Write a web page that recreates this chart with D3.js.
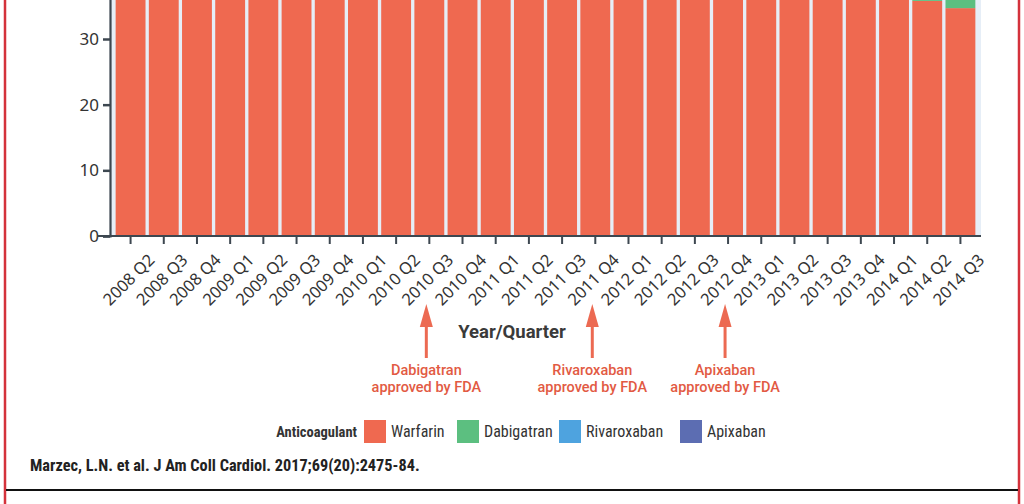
<!DOCTYPE html>
<html><head><meta charset="utf-8">
<script src="https://cdn.jsdelivr.net/npm/d3@7"></script>
<style>
html,body{margin:0;padding:0;background:#fff;}
svg{display:block;}
</style></head>
<body>
<svg id="chart" width="1024" height="504"></svg>
<script>
// ---- data ----
const quarters = ["2008 Q2","2008 Q3","2008 Q4","2009 Q1","2009 Q2","2009 Q3","2009 Q4",
  "2010 Q1","2010 Q2","2010 Q3","2010 Q4","2011 Q1","2011 Q2","2011 Q3","2011 Q4",
  "2012 Q1","2012 Q2","2012 Q3","2012 Q4","2013 Q1","2013 Q2","2013 Q3","2013 Q4",
  "2014 Q1","2014 Q2","2014 Q3"];
const drugs = ["Warfarin","Dabigatran","Rivaroxaban","Apixaban"];
const warfarin    = [50,51,52,52,52,51,51,50,50,49,48,47,46,45,44,43,42,41,40,39.5,39,38.5,38,37,35.8,34.7];
const dabigatran  = [0,0,0,0,0,0,0,0,0,0,1,2,3,3.5,4,4,3.8,3.5,3.2,3,2.8,2.6,2.4,2.2,2,1.9];
const rivaroxaban = [0,0,0,0,0,0,0,0,0,0,0,0,0,0,0.3,1,1.8,2.5,3.2,3.8,4.3,4.8,5.2,5.6,6,6.3];
const apixaban    = [0,0,0,0,0,0,0,0,0,0,0,0,0,0,0,0,0,0,0,0.2,0.5,0.9,1.3,1.7,2.1,2.5];
const yTicks = [0,10,20,30];
const approvals = [
  {quarter:"2010 Q3", lines:["Dabigatran","approved by FDA"]},
  {quarter:"2011 Q4", lines:["Rivaroxaban","approved by FDA"]},
  {quarter:"2012 Q4", lines:["Apixaban","approved by FDA"]}
];
const colors = ["#ef6950","#5cbf80","#4ea3df","#5c6db2"];
const citation = "Marzec, L.N. et al. J Am Coll Cardiol. 2017;69(20):2475-84.";

// ---- chart ----
const svg = d3.select("#chart");
const font = "'Noto Sans', 'Open Sans', sans-serif";
const narrow = "'Liberation Sans Narrow', 'Roboto Condensed', sans-serif";
const left = 110, right = 981, bottom = 236;
const pxPerUnit = 6.567;

const x = d3.scaleBand().domain(quarters).range([left, right]).paddingInner(0.1).paddingOuter(0.17);
const y = d3.scaleLinear().domain([0, 40]).range([bottom, bottom - 40 * pxPerUnit]);

// plot background
svg.append("rect").attr("x", left).attr("y", 0).attr("width", right - left).attr("height", bottom)
  .attr("fill", "#e6eef7");

const rows = quarters.map((q, i) => ({quarter: q, Warfarin: warfarin[i], Dabigatran: dabigatran[i],
  Rivaroxaban: rivaroxaban[i], Apixaban: apixaban[i]}));
const stack = d3.stack().keys(drugs)(rows);

svg.append("g").selectAll("g").data(stack).join("g")
  .attr("fill", (d, i) => colors[i])
  .selectAll("rect").data(d => d).join("rect")
  .attr("x", d => x(d.data.quarter))
  .attr("width", x.bandwidth())
  .attr("y", d => y(d[1]))
  .attr("height", d => y(d[0]) - y(d[1]));

// y axis
const yAxis = svg.append("g").attr("transform", `translate(${left},0)`)
  .call(d3.axisLeft(y).tickValues(yTicks).tickSize(7).tickPadding(4));
yAxis.select(".domain").attr("stroke", "#3d4750").attr("stroke-width", 2.2);
yAxis.selectAll(".tick line").attr("stroke", "#3d4750").attr("stroke-width", 2.5);
yAxis.selectAll(".tick text").attr("font-family", font).attr("font-size", 17).attr("fill", "#333");

// x axis
const xAxis = svg.append("g").attr("transform", `translate(0,${bottom})`)
  .call(d3.axisBottom(x).tickSize(8).tickSizeOuter(0));
xAxis.select(".domain").attr("d", `M${left - 13},0H${right}`).attr("stroke", "#3d4750").attr("stroke-width", 2.2);
xAxis.selectAll(".tick line").attr("stroke", "#3d4750").attr("stroke-width", 2);
xAxis.selectAll(".tick text")
  .attr("font-family", font).attr("font-size", 16.5).attr("fill", "#333")
  .attr("text-anchor", "end")
  .attr("dy", null).attr("y", null)
  .attr("transform", "translate(25,25) rotate(-45)");

// axis title
svg.append("text").attr("x", 512).attr("y", 338).attr("text-anchor", "middle")
  .attr("font-family", "Roboto, sans-serif").attr("font-weight", "bold").attr("font-size", 18.5).attr("fill", "#3a3a3a")
  .text("Year/Quarter");

// approval arrows
const arrowColor = "#ec6a52";
const ag = svg.append("g").selectAll("g").data(approvals).join("g")
  .attr("transform", d => `translate(${x(d.quarter) + x.bandwidth() / 2 - 3},0)`);
ag.append("line").attr("x1", 0).attr("x2", 0).attr("y1", 322).attr("y2", 358)
  .attr("stroke", arrowColor).attr("stroke-width", 3);
ag.append("path").attr("d", "M0,304L-6.5,327L6.5,327Z").attr("fill", arrowColor);
ag.each(function(d) {
  const g = d3.select(this);
  d.lines.forEach((t, i) => {
    g.append("text").attr("x", 0).attr("y", 375 + i * 17).attr("text-anchor", "middle")
      .attr("font-family", "Roboto, sans-serif").attr("font-weight", 500).attr("font-size", 14.5)
      .attr("fill", "#e25a43").text(t);
  });
});

// legend
const lg = svg.append("g");
lg.append("text").attr("x", 357).attr("y", 437).attr("text-anchor", "end").attr("font-family", narrow).attr("font-weight", "bold")
  .attr("font-size", 14.5).attr("fill", "#333").text("Anticoagulant");
const legendX = [364, 457, 559, 680];
drugs.forEach((dname, i) => {
  lg.append("rect").attr("x", legendX[i]).attr("y", 420).attr("width", 22).attr("height", 23).attr("fill", colors[i]);
  lg.append("text").attr("x", legendX[i] + 27).attr("y", 437).attr("font-family", narrow)
    .attr("font-size", 16).attr("fill", "#333").text(dname);
});

// citation
svg.append("text").attr("x", 30).attr("y", 471)
  .attr("font-family", narrow)
  .attr("font-weight", "bold").attr("font-size", 16.3).attr("fill", "#222").text(citation);

// frame
svg.append("line").attr("x1", 5).attr("x2", 5).attr("y1", 0).attr("y2", 504).attr("stroke", "#d4323b").attr("stroke-width", 2.5);
svg.append("line").attr("x1", 1019).attr("x2", 1019).attr("y1", 0).attr("y2", 504).attr("stroke", "#d4323b").attr("stroke-width", 2.5);
svg.append("line").attr("x1", 6).attr("x2", 1018).attr("y1", 490).attr("y2", 490).attr("stroke", "#111").attr("stroke-width", 2);
</script>
</body></html>
